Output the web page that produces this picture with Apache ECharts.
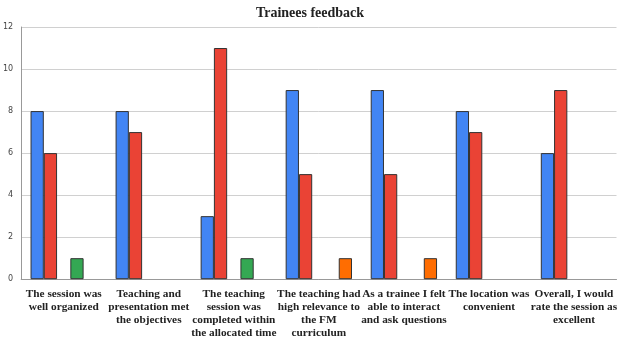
<!DOCTYPE html>
<html>
<head>
<meta charset="utf-8">
<script src="https://cdn.jsdelivr.net/npm/echarts@6/dist/echarts.min.js"></script>
<style>
  html, body { margin: 0; padding: 0; background: #fff; }
  #chart { width: 620px; height: 339px; }
</style>
</head>
<body>
<div id="chart"></div>
<script>
// Categorias (rótulos do eixo X, com quebras de linha como na figura)
const categories = [
    'The session was\nwell organized',
    'Teaching and\npresentation met\nthe objectives',
    'The teaching\nsession was\ncompleted within\nthe allocated time',
    'The teaching had\nhigh relevance to\nthe FM\ncurriculum',
    'As a trainee I felt\nable to interact\nand ask questions',
    'The location was\nconvenient',
    'Overall, I would\nrate the session as\nexcellent'
];

// Valores de cada série (escala Likert)
const seriesA = [8, 8, 3, 9, 9, 8, 6];
const seriesB = [6, 7, 11, 5, 5, 7, 9];
const seriesC = [0, 0, 0, 0, 0, 0, 0];
const seriesD = [1, 0, 1, 0, 0, 0, 0];
const seriesE = [0, 0, 0, 1, 1, 0, 0];

const colors = ['#4285F4', '#EA4335', '#FBBC04', '#34A853', '#FF6D01'];
const yTicks = { min: 0, max: 12, interval: 2 };

const chartDom = document.getElementById('chart');
const myChart = echarts.init(chartDom);

function bar(name, data, color) {
    return {
        name: name,
        type: 'bar',
        // valores zero não são desenhados (sem borda visível)
        data: data.map(v => (v === 0 ? '-' : v)),
        barGap: '0%',
        barCategoryGap: '22%',
        itemStyle: {
            color: color,
            borderColor: '#333',
            borderWidth: 1
        }
    };
}

const option = {
    animation: false,
    title: {
        text: 'Trainees feedback',
        left: 'center',
        top: 1,
        textStyle: {
            fontFamily: 'Liberation Serif',
            fontWeight: 'bold',
            fontSize: 14,
            color: '#222'
        }
    },
    grid: {
        left: 20,
        right: 3,
        top: 27,
        bottom: 59
    },
    xAxis: {
        type: 'category',
        data: categories,
        axisTick: { show: false },
        axisLine: { lineStyle: { color: '#999' } },
        axisLabel: {
            interval: 0,
            margin: 9,
            fontFamily: 'Liberation Serif',
            fontWeight: 'bold',
            fontSize: 11.3,
            lineHeight: 12.7,
            color: '#222'
        }
    },
    yAxis: {
        type: 'value',
        min: yTicks.min,
        max: yTicks.max,
        interval: yTicks.interval,
        axisLine: { show: true, lineStyle: { color: '#999' } },
        axisTick: { show: false },
        axisLabel: {
            fontFamily: 'DejaVu Sans',
            fontSize: 8,
            color: '#444',
            margin: 8
        },
        splitLine: { lineStyle: { color: '#d0d0d0' } }
    },
    series: [
        bar('Strongly agree', seriesA, colors[0]),
        bar('Agree', seriesB, colors[1]),
        bar('Neutral', seriesC, colors[2]),
        bar('Disagree', seriesD, colors[3]),
        bar('Strongly disagree', seriesE, colors[4])
    ]
};

myChart.setOption(option);
</script>
</body>
</html>
